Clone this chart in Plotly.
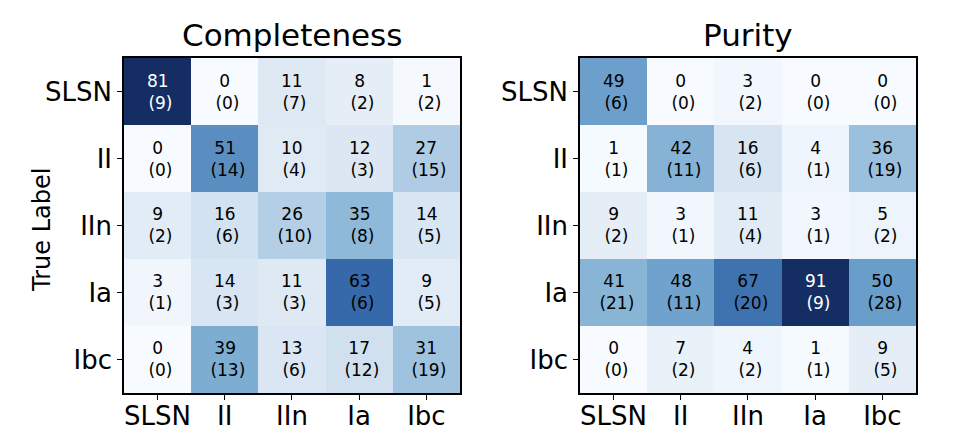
import plotly.graph_objects as go

labels = ["SLSN", "II", "IIn", "Ia", "Ibc"]

# rows = true label, columns = predicted label
completeness = [
    [81, 0, 11, 8, 1],
    [0, 51, 10, 12, 27],
    [9, 16, 26, 35, 14],
    [3, 14, 11, 63, 9],
    [0, 39, 13, 17, 31],
]
completeness_err = [
    [9, 0, 7, 2, 2],
    [0, 14, 4, 3, 15],
    [2, 6, 10, 8, 5],
    [1, 3, 3, 6, 5],
    [0, 13, 6, 12, 19],
]
purity = [
    [49, 0, 3, 0, 0],
    [1, 42, 16, 4, 36],
    [9, 3, 11, 3, 5],
    [41, 48, 67, 91, 50],
    [0, 7, 4, 1, 9],
]
purity_err = [
    [6, 0, 2, 0, 0],
    [1, 11, 6, 1, 19],
    [2, 1, 4, 1, 2],
    [21, 11, 20, 9, 28],
    [0, 2, 2, 1, 5],
]

# blues, tuned to the reference picture
blues = [
    [0.0, "#f7fbff"], [0.14, "#dde8f4"], [0.2, "#d3e2f0"],
    [0.32, "#b4cfe5"], [0.43, "#8fb9d9"], [0.54, "#6b9fcb"],
    [0.63, "#5a8ec0"], [0.78, "#3468aa"], [1.0, "#142e64"],
]

FONT = "DejaVu Sans"
# page body has an 8px margin, so the figure is 16px smaller than the window
W, H = 960, 422

fig = go.Figure()
annotations = []

panels = [
    ("Completeness", completeness, completeness_err, "x", "y", [0.1208, 0.4708]),
    ("Purity", purity, purity_err, "x2", "y2", [0.5958, 0.9458]),
]

for title, vals, errs, xa, ya, dom in panels:
    vmax = max(max(r) for r in vals)
    fig.add_trace(go.Heatmap(
        z=vals, x=labels, y=labels, xaxis=xa, yaxis=ya,
        colorscale=blues, zmin=0, zmax=vmax, showscale=False,
        hoverinfo="skip",
    ))
    for i, row in enumerate(vals):
        for j, v in enumerate(row):
            color = "white" if v > 0.8 * vmax else "black"
            annotations.append(dict(
                x=labels[j], y=labels[i], xref=xa, yref=ya,
                text=f"{v}<br>\u00a0({errs[i][j]})", showarrow=False,
                font=dict(family=FONT, size=17, color=color),
            ))
    annotations.append(dict(
        x=(dom[0] + dom[1]) / 2, y=0.936, xref="paper", yref="paper",
        text=title, showarrow=False, xanchor="center", yanchor="middle",
        font=dict(family=FONT, size=31, color="black"),
    ))

annotations.append(dict(
    x=0.0354, y=0.474, xref="paper", yref="paper", text="True Label",
    showarrow=False, textangle=-90, xanchor="center", yanchor="middle",
    font=dict(family=FONT, size=24, color="black"),
))

axis_style = dict(
    showline=True, mirror=True, linecolor="black", linewidth=1.5,
    ticks="outside", ticklen=5, tickcolor="black", tickwidth=1.2,
    tickfont=dict(family=FONT, size=26, color="black"),
    showgrid=False, zeroline=False, automargin=False,
)

fig.update_layout(
    width=W, height=H,
    margin=dict(l=0, r=0, t=0, b=0),
    paper_bgcolor="white", plot_bgcolor="white",
    xaxis=dict(domain=[0.1208, 0.4708], anchor="y", ticklabelstandoff=-6, **axis_style),
    yaxis=dict(domain=[0.0877, 0.8815], anchor="x", autorange="reversed", **axis_style),
    xaxis2=dict(domain=[0.5958, 0.9458], anchor="y2", ticklabelstandoff=-6, **axis_style),
    yaxis2=dict(domain=[0.0877, 0.8815], anchor="x2", autorange="reversed", **axis_style),
    annotations=annotations,
)

fig.write_html("out.html")
